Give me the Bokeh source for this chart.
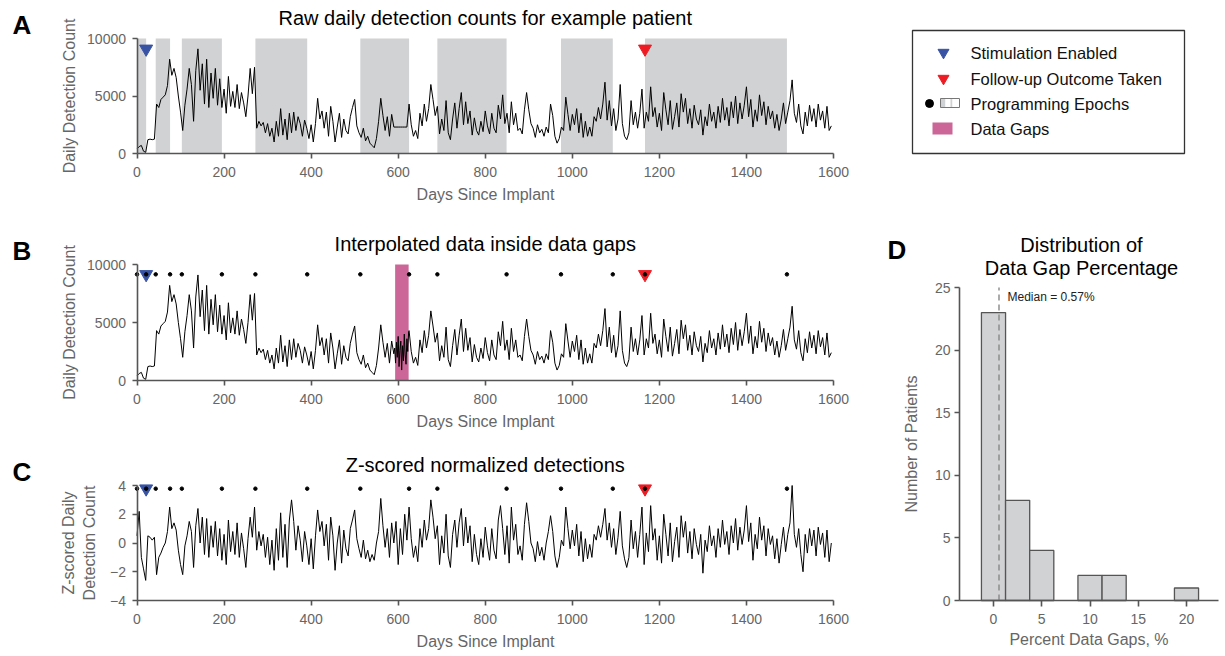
from bokeh.plotting import figure
from bokeh.layouts import row, column
from bokeh.models import Label, FixedTicker, Range1d
from bokeh.embed import file_html
from bokeh.resources import INLINE

FONT = "Liberation Sans"
AX = "#555555"
TXT = "#666666"
SHADE = "#D1D2D4"
PINK = "#CC6699"
BLUE = "#3953A4"
RED = "#ED1C24"

# ---------------- data ----------------
STEP = 5  # days between samples
counts = [
    400, 600, 700, 200, 100, 1200, 1250, 1200, 1250, 4300, 4000, 4700, 4900, 5100, 5900, 8200, 6800, 7400, 6600, 5000,
    3600, 2000, 4200, 5600, 7400, 6000, 2800, 7200, 9100, 5500, 7800, 4300, 8200, 4000, 7000, 4800, 7400, 4200, 6500, 4000,
    5600, 3500, 6700, 4100, 5400, 4000, 6000, 3900, 5300, 4400, 3200, 5000, 7400, 5200, 7500, 2200, 2800, 2400, 2700, 1800,
    2600, 1500, 2200, 1000, 2800, 1500, 3900, 1600, 3000, 1200, 3500, 1800, 3600, 2000, 3200, 2600, 1500, 2900, 2200, 1300,
    2500, 1000, 2600, 4800, 3000, 3700, 2200, 3600, 1500, 4100, 2800, 1000, 2300, 3500, 1400, 3000, 2000, 1700, 3200, 4000,
    4700, 2400, 1800, 1400, 2200, 1100, 1500, 900, 700, 500, 1300, 2800, 4800, 3300, 2000, 3200, 1500, 3400, 2300, 2300,
    2300, 2300, 2300, 2300, 2300, 4300, 2500, 1500, 2000, 1300, 3500, 2400, 4300, 2800, 3900, 6000, 4700, 3300, 4100, 1700,
    3000, 2000, 4600, 1800, 1200, 3000, 4400, 2200, 3900, 5300, 2500, 4500, 2600, 3700, 1600, 3100, 2000, 1600, 2800, 1900,
    3700, 2400, 1700, 3500, 2200, 1800, 4200, 3000, 5100, 2600, 3500, 1800, 4500, 2500, 3500, 2000, 2200, 1700, 3800, 5300,
    3800, 2600, 2200, 1400, 2500, 1800, 2100, 1500, 2300, 1800, 4300, 3300, 1500, 900, 1300, 2300, 2000, 4900, 3400, 2000,
    3400, 2500, 3900, 1800, 3500, 1400, 2800, 1500, 2300, 1500, 3200, 2800, 4000, 3000, 4300, 6200, 2900, 4600, 2400, 3900,
    2000, 3000, 6000, 2600, 1500, 1200, 1800, 4600, 2500, 3600, 2200, 3500, 5600, 2200, 3600, 2800, 5800, 3200, 4000, 2300,
    3500, 2000, 5300, 3800, 2500, 4600, 2100, 3200, 4400, 2300, 5200, 3600, 4800, 2600, 3900, 2200, 4200, 3000, 2500, 3800,
    1600, 3200, 2400, 4300, 2800, 3600, 2200, 4100, 2700, 4800, 2900, 4000, 2400, 4500, 3100, 5000, 2600, 4400, 3000, 4200,
    5800, 3200, 4700, 2300, 3800, 2800, 5100, 3300, 4500, 2500, 4100, 3000, 3700, 2200, 3400, 2000, 3000, 4400, 2600, 3600,
    4600, 6400, 3500, 2700, 4300, 2400, 1700, 3600, 2400, 4200, 2800, 3900, 2300, 4300, 2900, 3700, 2200, 4100, 2000, 2400,
]
zscores = [
    0.5, 2.2, -1.0, -1.8, -2.6, 0.5, 0.4, 0.2, 0.4, -2.2, -1.0, -0.7, -0.3, 0.0, 0.8, 2.5, 1.0, 1.4, 0.9, -0.5,
    -1.5, -2.2, -0.2, 0.5, 1.5, 0.8, -1.7, 1.2, 2.4, 0.0, 1.8, -0.8, 1.7, -1.0, 1.2, -0.3, 1.5, -0.9, 1.0, -1.2,
    0.6, -1.5, 1.6, -0.6, 0.8, -0.8, 1.4, -1.0, 0.7, -0.4, -1.7, 0.3, 1.8, 0.4, 2.5, -0.5, 0.8, -0.2, 0.6, -1.0,
    0.4, -1.5, 0.2, -1.9, 1.0, -1.2, 2.1, -1.0, 1.3, -1.7, 1.6, 3.0, 1.5, -0.5, 1.2, 0.2, -1.3, 0.8, -0.2, -1.5,
    0.3, -1.8, 0.5, 2.3, 0.8, 1.5, -0.2, 1.3, -1.2, 1.8, 0.5, -1.9, 0.0, 1.2, -1.4, 0.9, -0.4, -0.9, 1.0, 1.6,
    2.3, 0.3, -0.4, -1.0, 0.2, -1.1, -0.5, -1.3, -0.8, -1.2, 0.0, 0.8, 3.1, 1.2, -0.3, 1.0, -1.0, 1.4, 0.0, 1.5,
    -1.5, 1.0, -0.8, 2.0, 0.2, 2.5, 0.3, -1.0, -0.2, -1.3, 1.0, -0.3, 1.6, 0.2, 1.0, 3.0, 1.8, 0.3, 1.2, -1.5,
    0.5, -0.7, 2.0, -0.9, -1.7, 0.6, 1.6, -0.3, 1.4, 2.4, -0.2, 1.8, 0.0, 1.2, -1.3, 0.6, -0.8, -1.5, 0.3, -1.0,
    1.1, -0.2, -1.2, 1.0, -0.5, -1.1, 1.6, 2.6, 1.0, -0.8, 1.2, -1.4, 2.5, 0.2, 1.3, -0.8, -0.2, -1.2, 1.3, 2.8,
    1.5, 0.0, -0.4, -1.3, 0.1, -0.9, -0.3, -1.2, 0.0, 0.8, 1.9, 0.8, -0.9, -1.7, -1.0, 0.2, -0.2, 2.5, 1.0, -0.4,
    0.9, -0.2, 1.3, -0.9, 0.8, -1.3, 0.3, -1.1, -0.1, -1.0, 0.6, 0.2, 1.2, 0.4, 1.3, 2.4, 0.2, 1.4, -0.3, 1.0,
    -0.8, 0.4, 2.2, -0.2, -1.1, -1.7, -1.0, 1.6, -0.4, 0.8, -1.0, 0.6, 2.5, -1.5, 0.7, -0.6, 2.6, 0.2, 1.0, -1.2,
    0.5, -1.4, 2.0, 0.6, -0.9, 1.4, -1.3, 0.1, 1.1, -1.0, 1.9, 0.4, 1.5, -0.7, 0.8, -1.1, 1.0, -0.1, -0.8, 0.6,
    -2.1, 0.2, -0.6, 1.2, -0.2, 0.5, -1.0, 1.0, -0.3, 1.6, -0.1, 0.8, -0.8, 1.2, 0.0, 1.7, -0.5, 1.1, -0.1, 0.9,
    2.6, 0.1, 1.4, -1.2, 0.6, -0.4, 1.8, 0.2, 1.2, -0.9, 1.0, -0.1, 0.5, -1.1, 0.3, -1.4, -0.1, 1.1, -0.6, 0.6,
    1.4, 4.0, 0.6, -0.3, 1.0, -0.8, -2.0, 0.6, -0.7, 1.0, -0.2, 0.9, -0.9, 1.1, -0.1, 0.7, -1.0, 0.9, -1.3, 0.0,
]
days = [STEP * i for i in range(len(counts))]
zdays = [STEP * i for i in range(len(zscores))]

# interpolated values inside the data gap (panel B)
gap_days = [592, 594, 596, 598, 600, 602, 604, 606, 608, 610, 612, 614, 616, 618, 620, 622, 624]
gap_interp = [2800, 1500, 3300, 2000, 3800, 1200, 2600, 3400, 900, 3000, 1700, 4000, 2200, 1400, 3600, 2500, 4200]
gap_span = [593, 624]

epochs = [0, 21, 43, 76, 103, 195, 272, 391, 513, 625, 690, 849, 974, 1093, 1167, 1493]
stim_day = 21
followup_day = 1167

hist_edges = [-1.25, 1.25, 3.75, 6.25, 8.75, 11.25, 13.75, 16.25, 18.75, 21.25]
hist_counts = [23, 8, 4, 0, 2, 2, 0, 0, 1]
median_gap = 0.57

legend_labels = ["Stimulation Enabled", "Follow-up Outcome Taken", "Programming Epochs", "Data Gaps"]


# ---------------- helpers ----------------
def add_text(p, x, y, text, size, color="black", align="left", baseline="middle", bold=False):
    p.add_layout(Label(x=x, y=y, text=text, text_font=FONT, text_font_size=f"{size}px",
                       text_color=color, text_align=align, text_baseline=baseline,
                       text_font_style="bold" if bold else "normal"))


def style(p, xlabel, ylabel, xticks, yticks, ylab_standoff=7):
    p.outline_line_color = None
    p.grid.visible = False
    p.xaxis.axis_label = xlabel
    p.yaxis.axis_label = ylabel
    p.xaxis.ticker = FixedTicker(ticks=xticks)
    p.yaxis.ticker = FixedTicker(ticks=yticks)
    for ax in p.axis:
        ax.axis_line_color = AX
        ax.axis_line_width = 1.6
        ax.major_tick_line_color = AX
        ax.major_tick_line_width = 1.6
        ax.major_tick_in = 0
        ax.major_tick_out = 5
        ax.minor_tick_line_color = None
        ax.major_label_text_font = FONT
        ax.major_label_text_font_size = "14px"
        ax.major_label_text_color = TXT
        ax.axis_label_text_font = FONT
        ax.axis_label_text_font_size = "16px"
        ax.axis_label_text_font_style = "normal"
        ax.axis_label_text_color = TXT
    p.xaxis.major_label_standoff = 8
    p.xaxis.axis_label_standoff = 6
    p.yaxis.major_label_standoff = 6
    p.yaxis.axis_label_standoff = ylab_standoff


# ---------------- left column: time series panels ----------------
LW = 870                 # width of left column (px)
KX = 696.5 / 1600.0      # px per day
X0PX = 136.5             # page x of day 0


def make_ts(top_px, bottom_px, axis_px, ymin, ymax, ymax_px):
    ky = (axis_px - ymax_px) / (ymax - ymin)
    fh = bottom_px - top_px
    fy = lambda py: ymin + (axis_px - py) / ky
    fx = lambda px: (px - X0PX) / KX
    p = figure(frame_width=LW, frame_height=fh,
               x_range=Range1d(fx(0), fx(LW)),
               y_range=Range1d(fy(bottom_px), fy(top_px)),
               min_border_left=0, min_border_right=0, min_border_top=0, min_border_bottom=0,
               toolbar_location=None, output_backend="svg")
    return p, fx, fy


def finish_ts(p, fx, fy, ymin, ymax, ymax_px, yticks, ylabel, letter, title, ylab_standoff=7):
    style(p, "Days Since Implant", ylabel, list(range(0, 1601, 200)), yticks, ylab_standoff)
    p.yaxis.fixed_location = 0
    p.yaxis.bounds = (ymin, ymax)
    p.xaxis.fixed_location = ymin
    p.xaxis.bounds = (0, 1600)
    add_text(p, 800, fy(ymax_px - 21), title, 20, align="center")
    add_text(p, fx(12), fy(ymax_px - 14), letter, 26, bold=True)


def markers(p, ymark, dots):
    p.scatter([stim_day], [ymark], marker="inverted_triangle", size=13, fill_color=BLUE, line_color=BLUE)
    p.scatter([followup_day], [ymark], marker="inverted_triangle", size=13, fill_color=RED, line_color=RED)
    if dots:
        p.scatter(epochs, [ymark] * len(epochs), marker="circle", size=3.5, fill_color="black", line_color="black")


# Panel A
pA, fxA, fyA = make_ts(0, 225, 153, 0, 10000, 38)
pA.quad(left=epochs[0::2], right=epochs[1::2], bottom=0, top=10000, fill_color=SHADE, line_color=None)
pA.line(days, counts, line_color="black", line_width=1)
markers(pA, 9100, False)
finish_ts(pA, fxA, fyA, 0, 10000, 38, [0, 5000, 10000], "Daily Detection Count", "A",
          "Raw daily detection counts for example patient")

# Panel B
b_pts = [(d, v) for d, v in zip(days, counts) if not (gap_days[0] <= d <= gap_days[-1])]
b_pts += list(zip(gap_days, gap_interp))
b_pts.sort()
pB, fxB, fyB = make_ts(225, 450, 380, 0, 10000, 264)
pB.quad(left=[gap_span[0]], right=[gap_span[1]], bottom=0, top=10000, fill_color=PINK, line_color=None)
pB.line([d for d, _ in b_pts], [v for _, v in b_pts], line_color="black", line_width=1)
markers(pB, 9150, True)
finish_ts(pB, fxB, fyB, 0, 10000, 264, [0, 5000, 10000], "Daily Detection Count", "B",
          "Interpolated data inside data gaps")

# Panel C
pC, fxC, fyC = make_ts(450, 656, 600, -4, 4, 485)
pC.line(zdays, zscores, line_color="black", line_width=1)
markers(pC, 3.78, True)
finish_ts(pC, fxC, fyC, -4, 4, 485, [-4, -2, 0, 2, 4], "Z-scored Daily\nDetection Count", "C",
          "Z-scored normalized detections", ylab_standoff=10)

# ---------------- right column: legend + panel D ----------------
RX0 = LW
RW = 1225 - LW
RH = 656
DKX = 9.65      # px per percent
D0PX = 993      # page x of 0 %
DKY = 313 / 25  # px per patient
DAXIS = 600     # page y of 0 patients

gx = lambda px: (px - D0PX) / DKX
gy = lambda py: (DAXIS - py) / DKY
pR = figure(frame_width=RW, frame_height=RH,
            x_range=Range1d(gx(RX0), gx(RX0 + RW)),
            y_range=Range1d(gy(RH), gy(0)),
            min_border_left=0, min_border_right=0, min_border_top=0, min_border_bottom=0,
            toolbar_location=None, output_backend="svg")

# legend box
pR.quad(left=[gx(912)], right=[gx(1184)], bottom=[gy(153)], top=[gy(30)], fill_color=None,
        line_color="#333333", line_width=1.3)
pR.scatter([gx(943)], [gy(52)], marker="inverted_triangle", size=11, fill_color=BLUE, line_color=BLUE)
pR.scatter([gx(943)], [gy(78)], marker="inverted_triangle", size=11, fill_color=RED, line_color=RED)
pR.scatter([gx(929)], [gy(103)], marker="circle", size=8, fill_color="black", line_color="black")
pR.quad(left=[gx(940), gx(945), gx(950), gx(952)], right=[gx(945), gx(950), gx(952), gx(959)],
        bottom=gy(107), top=gy(98), fill_color=[SHADE, "white", SHADE, "white"], line_color=None)
pR.quad(left=[gx(940)], right=[gx(959)], bottom=[gy(107)], top=[gy(98)], fill_color=None,
        line_color="#777777", line_width=1)
pR.quad(left=[gx(932)], right=[gx(952)], bottom=[gy(134)], top=[gy(122)], fill_color=PINK, line_color=None)
for py, t in zip([52, 78, 103, 128], legend_labels):
    add_text(pR, gx(970), gy(py), t, 16.5, color="#111111")

# histogram
nz = [i for i, c in enumerate(hist_counts) if c > 0]
pR.quad(left=[hist_edges[i] for i in nz], right=[hist_edges[i + 1] for i in nz],
        top=[hist_counts[i] for i in nz], bottom=0,
        fill_color=SHADE, line_color=AX, line_width=1.3)
pR.segment(x0=[median_gap], y0=[0], x1=[median_gap], y1=[25], line_color="#888888",
           line_width=1.4, line_dash="6 4")
style(pR, "Percent Data Gaps, %", "Number of Patients", [0, 5, 10, 15, 20], [0, 5, 10, 15, 20, 25],
      ylab_standoff=12)
pR.yaxis.fixed_location = gx(959)
pR.yaxis.bounds = (0, 25)
pR.xaxis.fixed_location = 0
pR.xaxis.bounds = (gx(959), gx(1217.5))
pR.xaxis.major_tick_out = 6
pR.xaxis.major_label_standoff = 7
pR.xaxis.axis_label_standoff = 4
pR.yaxis.major_label_standoff = 4
add_text(pR, gx(1007), gy(296), "Median = " + f"{median_gap:.2f}%", 12, color="#222222")
add_text(pR, gx(1081), gy(244), "Distribution of", 20, align="center")
add_text(pR, gx(1081), gy(267), "Data Gap Percentage", 20, align="center")
add_text(pR, gx(887), gy(249), "D", 26, bold=True)

layout = row(column(pA, pB, pC), pR)
open("out.html", "w").write(file_html(layout, INLINE))
